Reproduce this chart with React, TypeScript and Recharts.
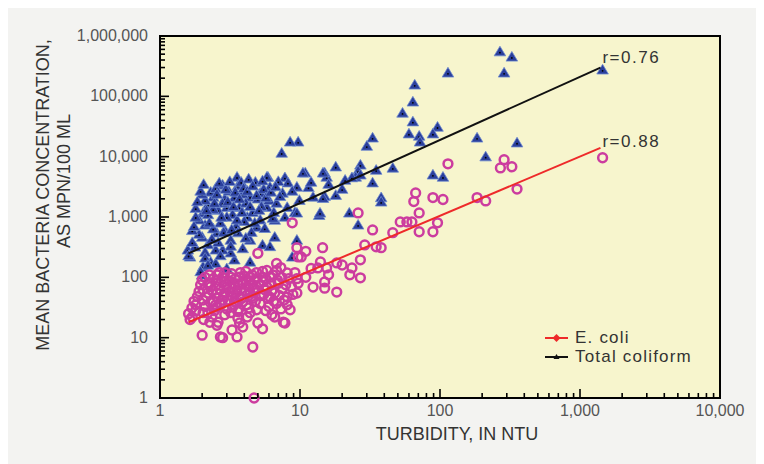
import React from "react";
import { ScatterChart, Scatter, XAxis, YAxis, ReferenceDot, ReferenceArea } from "recharts";

const FONT = "'Liberation Sans', Arial, sans-serif";
const COLIFORM_COLOR = "#2b3f9c";
const ECOLI_COLOR = "#cc3c9f";

const xTicks = [1, 2, 3, 4, 5, 6, 7, 8, 9, 10, 20, 30, 40, 50, 60, 70, 80, 90, 100, 200, 300, 400, 500, 600, 700, 800, 900, 1000, 2000, 3000, 4000, 5000, 6000, 7000, 8000, 9000, 10000];
const yTicks = [1, 2, 3, 4, 5, 6, 7, 8, 9, 10, 20, 30, 40, 50, 60, 70, 80, 90, 100, 200, 300, 400, 500, 600, 700, 800, 900, 1000, 2000, 3000, 4000, 5000, 6000, 7000, 8000, 9000, 10000, 20000, 30000, 40000, 50000, 60000, 70000, 80000, 90000, 100000, 200000, 300000, 400000, 500000, 600000, 700000, 800000, 900000, 1000000];

const totalColiform = [
  { x: 268, y: 550000 }, { x: 326, y: 450000 }, { x: 114, y: 245000 }, { x: 287, y: 245000 },
  { x: 1450, y: 275000 }, { x: 66, y: 155000 }, { x: 64, y: 81000 }, { x: 54, y: 53000 },
  { x: 64, y: 38000 }, { x: 60, y: 24000 }, { x: 71, y: 22000 }, { x: 96, y: 31000 },
  { x: 89, y: 24000 }, { x: 72, y: 17600 }, { x: 184, y: 20500 }, { x: 355, y: 17000 },
  { x: 212, y: 10000 }, { x: 89, y: 5000 }, { x: 105, y: 4600 },
  { x: 9.7, y: 17600 }, { x: 8.5, y: 17600 }, { x: 33, y: 20500 }, { x: 30, y: 15000 },
  { x: 18, y: 6800 }, { x: 15, y: 5400 }, { x: 15.5, y: 4600 }, { x: 27, y: 7300 },
  { x: 26, y: 5800 }, { x: 25, y: 4600 }, { x: 46, y: 6500 }, { x: 33, y: 3700 },
  { x: 10.9, y: 5400 }, { x: 18, y: 2300 }, { x: 38, y: 2100 }, { x: 15, y: 2200 },
  { x: 7.4, y: 11500 }, { x: 3.55, y: 4600 }, { x: 2.8, y: 3400 }, { x: 5.9, y: 4600 },
  { x: 7.8, y: 4500 }, { x: 23.5, y: 4500 }, { x: 12.4, y: 2150 }, { x: 13.7, y: 1070 },
  { x: 22.5, y: 1170 }, { x: 26, y: 740 }, { x: 38, y: 1780 }, { x: 9.2, y: 1200 },
  { x: 6.6, y: 890 }, { x: 2.4, y: 2150 }, { x: 2.2, y: 1600 }, { x: 5.8, y: 4600 },
  { x: 10.5, y: 5400 }, { x: 14.6, y: 5400 }, { x: 27, y: 5000 }, { x: 35, y: 6000 },
  { x: 13.9, y: 1170 }, { x: 14.6, y: 2050 }, { x: 9.5, y: 1170 }, { x: 9.5, y: 415 },
  { x: 8.8, y: 218 }, { x: 6.6, y: 465 }, { x: 5.4, y: 345 }, { x: 6.1, y: 325 },
  { x: 4.4, y: 180 }, { x: 3.4, y: 195 }, { x: 3.2, y: 255 }, { x: 2.8, y: 285 },
  { x: 2.5, y: 285 }, { x: 2.03, y: 150 }, { x: 2.0, y: 110 }, { x: 1.64, y: 218 },
  { x: 1.58, y: 285 }, { x: 1.78, y: 320 }, { x: 2.0, y: 465 }, { x: 2.1, y: 740 },
  { x: 2.03, y: 1170 }, { x: 3.0, y: 1450 }, { x: 3.7, y: 1450 }, { x: 4.4, y: 2150 },
  { x: 5.2, y: 2500 }, { x: 5.8, y: 1450 }, { x: 4.2, y: 1000 }, { x: 5.2, y: 900 },
  { x: 6.4, y: 960 }, { x: 8.1, y: 1450 }, { x: 7.5, y: 2500 }, { x: 9.5, y: 3150 },
  { x: 8.2, y: 3700 }, { x: 6.1, y: 3150 }, { x: 2.9, y: 610 }, { x: 3.2, y: 415 },
  { x: 2.55, y: 545 }, { x: 4.4, y: 415 }, { x: 4.9, y: 680 }, { x: 1.9, y: 900 },
  { x: 2.1, y: 1900 }, { x: 2.3, y: 2600 }, { x: 2.5, y: 3000 }, { x: 2.6, y: 1300 },
  { x: 2.7, y: 800 }, { x: 2.9, y: 2000 }, { x: 3.1, y: 2700 }, { x: 3.3, y: 1100 },
  { x: 3.5, y: 700 }, { x: 3.6, y: 3300 }, { x: 3.9, y: 2400 }, { x: 4.1, y: 1700 },
  { x: 4.6, y: 1200 }, { x: 4.8, y: 3800 }, { x: 5.0, y: 2000 }, { x: 5.5, y: 2900 },
  { x: 6.0, y: 1900 }, { x: 6.8, y: 1700 }, { x: 7.2, y: 2200 }, { x: 7.0, y: 3900 },
  { x: 2.2, y: 1100 }, { x: 2.4, y: 640 }, { x: 2.6, y: 380 }, { x: 2.2, y: 350 },
  { x: 1.9, y: 520 }, { x: 2.8, y: 1700 }, { x: 3.4, y: 2100 }, { x: 4.0, y: 850 },
  { x: 4.5, y: 560 }, { x: 5.6, y: 650 }, { x: 6.5, y: 1200 }, { x: 8.8, y: 2700 },
  { x: 3.8, y: 3800 }, { x: 4.3, y: 4300 }, { x: 2.0, y: 2400 }, { x: 1.8, y: 1400 },
  { x: 2.4, y: 1350 }, { x: 3.0, y: 1000 }, { x: 5.3, y: 1500 }, { x: 3.6, y: 550 },
  { x: 2.1, y: 260 }, { x: 2.3, y: 180 }, { x: 3.0, y: 140 }, { x: 1.7, y: 600 },
  { x: 7.8, y: 1000 }, { x: 9.9, y: 1900 }, { x: 11.5, y: 3100 }, { x: 16, y: 3500 },
  { x: 20, y: 2900 }, { x: 21, y: 4100 }, { x: 12, y: 3800 },
  { x: 1.6, y: 230 }, { x: 1.7, y: 380 }, { x: 1.75, y: 700 }, { x: 1.8, y: 1000 },
  { x: 1.85, y: 1800 }, { x: 1.95, y: 2700 }, { x: 2.05, y: 3500 }, { x: 2.15, y: 1300 },
  { x: 2.25, y: 800 }, { x: 2.35, y: 430 }, { x: 2.45, y: 1700 }, { x: 2.55, y: 2400 },
  { x: 2.65, y: 3700 }, { x: 2.75, y: 1000 }, { x: 2.85, y: 560 }, { x: 2.95, y: 2900 },
  { x: 3.05, y: 1800 }, { x: 3.15, y: 3900 }, { x: 3.25, y: 620 }, { x: 3.35, y: 1500 },
  { x: 3.45, y: 2600 }, { x: 3.55, y: 900 }, { x: 3.7, y: 2000 }, { x: 3.85, y: 1200 },
  { x: 3.95, y: 3000 }, { x: 4.1, y: 450 }, { x: 4.2, y: 2700 }, { x: 4.4, y: 1500 },
  { x: 4.6, y: 3300 }, { x: 4.75, y: 800 }, { x: 4.9, y: 2300 }, { x: 5.1, y: 1300 },
  { x: 5.4, y: 4000 }, { x: 5.7, y: 2100 }, { x: 6.2, y: 2600 }, { x: 6.7, y: 3200 },
  { x: 2.1, y: 210 }, { x: 2.5, y: 170 }, { x: 2.7, y: 230 }, { x: 3.2, y: 330 },
  { x: 3.9, y: 300 }, { x: 2.2, y: 160 }, { x: 1.95, y: 125 },
];

const eColi = [
  { x: 1450, y: 9600 }, { x: 287, y: 8900 }, { x: 270, y: 6500 }, { x: 326, y: 6800 },
  { x: 114, y: 7600 }, { x: 355, y: 2900 }, { x: 184, y: 2100 }, { x: 212, y: 1850 },
  { x: 67, y: 2500 }, { x: 65, y: 1800 }, { x: 89, y: 2100 }, { x: 105, y: 1950 },
  { x: 71, y: 1170 }, { x: 58, y: 830 }, { x: 63, y: 830 }, { x: 52, y: 830 },
  { x: 71, y: 570 }, { x: 89, y: 570 }, { x: 96, y: 800 }, { x: 46, y: 550 },
  { x: 26, y: 1170 }, { x: 33, y: 610 }, { x: 29, y: 345 }, { x: 35, y: 320 },
  { x: 38, y: 310 }, { x: 27, y: 195 }, { x: 23.5, y: 143 }, { x: 22.7, y: 110 },
  { x: 27, y: 98 }, { x: 18.3, y: 173 }, { x: 15.5, y: 143 }, { x: 13.4, y: 143 },
  { x: 15, y: 84 }, { x: 15, y: 66 }, { x: 12.4, y: 69 }, { x: 18.3, y: 57 },
  { x: 9.7, y: 218 }, { x: 10.2, y: 218 }, { x: 9.5, y: 310 }, { x: 8.8, y: 800 },
  { x: 5.0, y: 250 }, { x: 4.6, y: 7 }, { x: 4.7, y: 1 }, { x: 2.0, y: 11 },
  { x: 2.7, y: 10.3 }, { x: 2.8, y: 10 }, { x: 3.55, y: 10.3 }, { x: 3.27, y: 13.4 },
  { x: 3.6, y: 21 }, { x: 4.2, y: 22 }, { x: 5.0, y: 17.5 }, { x: 7.8, y: 17.5 },
  { x: 6.6, y: 22 }, { x: 4.9, y: 29 }, { x: 2.55, y: 16 }, { x: 2.27, y: 18 },
  { x: 1.64, y: 20 }, { x: 1.69, y: 31 }, { x: 1.6, y: 25 }, { x: 2.03, y: 26 },
  { x: 2.55, y: 32 }, { x: 3.3, y: 32 }, { x: 3.9, y: 39 }, { x: 5.2, y: 37 },
  { x: 6.1, y: 47 }, { x: 6.8, y: 37 }, { x: 8.1, y: 35 }, { x: 8.5, y: 29 },
  { x: 8.1, y: 47 }, { x: 9.5, y: 55 }, { x: 9.7, y: 80 }, { x: 9.5, y: 95 },
  { x: 8.1, y: 118 }, { x: 6.8, y: 130 }, { x: 7.3, y: 145 }, { x: 6.1, y: 100 },
  { x: 5.4, y: 101 }, { x: 4.9, y: 120 }, { x: 4.4, y: 101 }, { x: 3.7, y: 101 },
  { x: 3.2, y: 101 }, { x: 2.55, y: 110 }, { x: 2.27, y: 80 }, { x: 2.03, y: 62 },
  { x: 2.03, y: 42 }, { x: 1.85, y: 48 }, { x: 2.55, y: 55 }, { x: 3.0, y: 69 },
  { x: 3.55, y: 62 }, { x: 3.9, y: 80 }, { x: 4.9, y: 62 }, { x: 5.8, y: 69 },
  { x: 7.0, y: 80 }, { x: 3.3, y: 47 }, { x: 4.4, y: 55 }, { x: 2.8, y: 42 },
  { x: 2.4, y: 40 }, { x: 2.2, y: 26 }, { x: 3.7, y: 17.5 }, { x: 4.4, y: 26 },
  { x: 7.6, y: 18 }, { x: 3.2, y: 26 }, { x: 2.3, y: 70 }, { x: 2.6, y: 90 },
  { x: 2.9, y: 85 }, { x: 3.4, y: 75 }, { x: 4.1, y: 90 }, { x: 4.6, y: 75 },
  { x: 5.5, y: 85 }, { x: 6.3, y: 60 }, { x: 7.5, y: 65 }, { x: 8.7, y: 70 },
  { x: 2.2, y: 55 }, { x: 2.9, y: 55 }, { x: 3.7, y: 48 }, { x: 4.6, y: 45 },
  { x: 5.5, y: 52 }, { x: 6.5, y: 40 }, { x: 2.5, y: 35 }, { x: 3.0, y: 30 },
  { x: 3.5, y: 38 }, { x: 12, y: 140 }, { x: 11, y: 100 }, { x: 14, y: 180 },
  { x: 20, y: 160 }, { x: 16, y: 110 }, { x: 1.8, y: 35 }, { x: 2.1, y: 100 },
  { x: 2.9, y: 120 }, { x: 4.1, y: 125 }, { x: 5.8, y: 130 }, { x: 6.8, y: 170 },
  { x: 11, y: 270 }, { x: 14.5, y: 310 },
  { x: 1.75, y: 40 }, { x: 1.9, y: 58 }, { x: 1.95, y: 75 }, { x: 2.0, y: 90 },
  { x: 2.1, y: 33 }, { x: 2.15, y: 48 }, { x: 2.2, y: 80 }, { x: 2.25, y: 110 },
  { x: 2.3, y: 38 }, { x: 2.35, y: 60 }, { x: 2.4, y: 95 }, { x: 2.45, y: 28 },
  { x: 2.5, y: 72 }, { x: 2.6, y: 45 }, { x: 2.65, y: 120 }, { x: 2.7, y: 63 },
  { x: 2.75, y: 36 }, { x: 2.8, y: 100 }, { x: 2.85, y: 50 }, { x: 2.95, y: 75 },
  { x: 3.05, y: 42 }, { x: 3.1, y: 88 }, { x: 3.15, y: 58 }, { x: 3.25, y: 115 },
  { x: 3.3, y: 66 }, { x: 3.4, y: 40 }, { x: 3.45, y: 95 }, { x: 3.5, y: 55 },
  { x: 3.6, y: 78 }, { x: 3.65, y: 30 }, { x: 3.75, y: 120 }, { x: 3.8, y: 65 },
  { x: 3.85, y: 45 }, { x: 4.0, y: 105 }, { x: 4.05, y: 58 }, { x: 4.15, y: 35 },
  { x: 4.25, y: 70 }, { x: 4.35, y: 88 }, { x: 4.5, y: 48 }, { x: 4.55, y: 110 },
  { x: 4.7, y: 65 }, { x: 4.8, y: 40 }, { x: 4.85, y: 95 }, { x: 5.1, y: 75 },
  { x: 5.3, y: 50 }, { x: 5.4, y: 125 }, { x: 5.6, y: 62 }, { x: 5.7, y: 95 },
  { x: 5.9, y: 45 }, { x: 6.2, y: 80 }, { x: 6.4, y: 110 }, { x: 6.6, y: 55 },
  { x: 6.9, y: 90 }, { x: 7.1, y: 50 }, { x: 7.4, y: 100 }, { x: 7.7, y: 42 },
  { x: 7.9, y: 75 }, { x: 8.3, y: 95 }, { x: 8.9, y: 52 }, { x: 9.2, y: 120 },
  { x: 2.05, y: 20 }, { x: 2.35, y: 22 }, { x: 2.9, y: 24 }, { x: 3.6, y: 27 },
  { x: 4.3, y: 31 }, { x: 5.7, y: 28 }, { x: 6.3, y: 24 }, { x: 1.7, y: 22 },
  { x: 1.8, y: 28 }, { x: 2.6, y: 18 }, { x: 3.9, y: 15 }, { x: 5.4, y: 14 },
  { x: 6.0, y: 33 }, { x: 7.3, y: 30 },
];

// regression line end points
const coliformFit = [{ x: 1.6, y: 250 }, { x: 1400, y: 300000 }];
const eColiFit = [{ x: 1.6, y: 18 }, { x: 1400, y: 14000 }];

const isDecade = (v: number) => {
  const l = Math.log10(v);
  return Math.abs(l - Math.round(l)) < 1e-6;
};
const fmt = (v: number) => v.toLocaleString("en-US");

const MAJOR = 9;
const MINOR = 5;
const INK = "#000";

const BottomTick = (props: any) => {
  const { x, y, payload } = props;
  const major = isDecade(payload.value);
  return (
    <g>
      <path d={`M${x},${y}V${y - (major ? MAJOR : MINOR)}`} stroke={INK} strokeWidth={1.6} fill="none" />
      {major && (
        <text x={x} y={y + 18} textAnchor="middle" fontSize={16} fill="#555" fontFamily={FONT}>
          {fmt(payload.value)}
        </text>
      )}
    </g>
  );
};

const TopTick = (props: any) => {
  const { x, y, payload } = props;
  const major = isDecade(payload.value);
  return <path d={`M${x},${y}V${y + (major ? MAJOR : MINOR)}`} stroke={INK} strokeWidth={1.6} fill="none" />;
};

const LeftTick = (props: any) => {
  const { x, y, payload } = props;
  const major = isDecade(payload.value);
  return (
    <g>
      <path d={`M${x},${y}H${x + (major ? MAJOR : MINOR)}`} stroke={INK} strokeWidth={1.6} fill="none" />
      {major && (
        <text x={x - 12} y={y + 5} textAnchor="end" fontSize={16} fill="#555" fontFamily={FONT}>
          {fmt(payload.value)}
        </text>
      )}
    </g>
  );
};

const RightTick = (props: any) => {
  const { x, y, payload } = props;
  const major = isDecade(payload.value);
  return <path d={`M${x},${y}H${x - (major ? MAJOR : MINOR)}`} stroke={INK} strokeWidth={1.6} fill="none" />;
};

const Triangle = (props: any) => {
  const { cx, cy } = props;
  return (
    <g>
      <polygon
        points={`${cx},${cy - 5.5} ${cx - 5.8},${cy + 4.2} ${cx + 5.8},${cy + 4.2}`}
        fill={COLIFORM_COLOR}
        stroke="#6f8bd0"
        strokeWidth={0.8}
      />
      <circle cx={cx} cy={cy + 1} r={0.9} fill="#000" />
    </g>
  );
};

const Ring = (props: any) => {
  const { cx, cy } = props;
  return <circle cx={cx} cy={cy} r={4.4} fill="none" stroke={ECOLI_COLOR} strokeWidth={2.5} />;
};

const NoShape = () => <g />;

const XTitle = (props: any) => {
  const { viewBox } = props;
  return (
    <text
      x={viewBox.x + viewBox.width / 2 + 17}
      y={viewBox.y + 42}
      textAnchor="middle"
      fontSize={18}
      fill="#333"
      fontFamily={FONT}
    >
      TURBIDITY, IN NTU
    </text>
  );
};

const ChartTitle = (props: any) => {
  const { viewBox } = props;
  return (
    <text x={viewBox.x + 146} y={viewBox.y - 9} textAnchor="middle" fontSize={16} fill="#333" fontFamily={FONT}>
      Chattahoochee River near Norcross
    </text>
  );
};

const YTitle = (props: any) => {
  const { viewBox } = props;
  const x1 = viewBox.x - 51;
  const x2 = viewBox.x - 30;
  const y1 = 195;
  const y2 = 181;
  return (
    <g fontSize={18} fill="#333" fontFamily={FONT} textAnchor="middle">
      <text x={x1} y={y1} transform={`rotate(-90 ${x1} ${y1})`}>
        MEAN BACTERIA CONCENTRATION,
      </text>
      <text x={x2} y={y2} transform={`rotate(-90 ${x2} ${y2})`}>
        AS MPN/100 ML
      </text>
    </g>
  );
};

const RLabel = (props: any) => {
  const { viewBox, text, dy } = props;
  return (
    <text x={viewBox.x + 2} y={viewBox.y + dy} fontSize={17} letterSpacing={1.5} fill="#333" fontFamily={FONT}>
      {text}
    </text>
  );
};

export default function App() {
  // the page keeps its 8px body margin, so pull everything back by 8px
  return (
    <div style={{ position: "relative", left: -8, top: -8, width: 764, height: 464, background: "#fff" }}>
      <div style={{ position: "absolute", left: 7, top: 7, width: 757, height: 457, background: "#f3f3f1" }} />
      <div
        style={{
          position: "absolute",
          left: 159,
          top: 35,
          width: 562,
          height: 364,
          boxSizing: "border-box",
          background: "#f7f5cd",
          border: `2px solid ${INK}`,
        }}
      />
      <div style={{ position: "absolute", left: 0, top: 0, width: 764, height: 464 }}>
        <ScatterChart width={764} height={464} margin={{ top: 36, right: 44, bottom: 36, left: 100 }}>
          <Scatter name="Total coliform" data={totalColiform} shape={<Triangle />} isAnimationActive={false} />
          <Scatter name="E. coli" data={eColi} shape={<Ring />} isAnimationActive={false} />
          <Scatter
            name="Total coliform fit"
            data={coliformFit}
            line={{ stroke: "#111", strokeWidth: 2 }}
            shape={<NoShape />}
            legendType="none"
            isAnimationActive={false}
          />
          <Scatter
            name="E. coli fit"
            data={eColiFit}
            line={{ stroke: "#ee2a2a", strokeWidth: 2 }}
            shape={<NoShape />}
            legendType="none"
            isAnimationActive={false}
          />
          <ReferenceArea
            x1={1}
            x2={10000}
            y1={1}
            y2={1000000}
            fill="none"
            stroke={INK}
            strokeWidth={2}
            ifOverflow="visible"
          />
          <XAxis
            dataKey="x"
            type="number"
            scale="log"
            domain={[1, 10000]}
            ticks={xTicks}
            interval={0}
            tickSize={0}
            tickMargin={0}
            tickLine={false}
            tick={BottomTick}
            axisLine={{ stroke: INK, strokeWidth: 2 }}
            height={30}
            label={<XTitle />}
          />
          <XAxis
            xAxisId="top"
            orientation="top"
            dataKey="x"
            type="number"
            scale="log"
            domain={[1, 10000]}
            ticks={xTicks}
            interval={0}
            tickSize={0}
            tickMargin={0}
            tickLine={false}
            tick={TopTick}
            axisLine={{ stroke: INK, strokeWidth: 2 }}
            height={0}
            label={<ChartTitle />}
          />
          <YAxis
            dataKey="y"
            type="number"
            scale="log"
            domain={[1, 1000000]}
            ticks={yTicks}
            interval={0}
            tickSize={0}
            tickMargin={0}
            tickLine={false}
            tick={LeftTick}
            axisLine={{ stroke: INK, strokeWidth: 2 }}
            width={60}
            label={<YTitle />}
          />
          <YAxis
            yAxisId="right"
            orientation="right"
            dataKey="y"
            type="number"
            scale="log"
            domain={[1, 1000000]}
            ticks={yTicks}
            interval={0}
            tickSize={0}
            tickMargin={0}
            tickLine={false}
            tick={RightTick}
            axisLine={{ stroke: INK, strokeWidth: 2 }}
            width={0}
          />
          <ReferenceDot
            x={coliformFit[1].x}
            y={coliformFit[1].y}
            r={0}
            fill="none"
            stroke="none"
            label={<RLabel text="r=0.76" dy={-5} />}
          />
          <ReferenceDot
            x={eColiFit[1].x}
            y={eColiFit[1].y}
            r={0}
            fill="none"
            stroke="none"
            label={<RLabel text="r=0.88" dy={-1} />}
          />
        </ScatterChart>
      </div>
      <div
        style={{
          position: "absolute",
          left: 545,
          top: 328,
          fontFamily: FONT,
          fontSize: 17,
          letterSpacing: 1.2,
          color: "#333",
          lineHeight: "19px",
        }}
      >
        <div style={{ display: "flex", alignItems: "center" }}>
          <svg width={24} height={12}>
            <line x1={0} y1={6} x2={23} y2={6} stroke="#ee2a2a" strokeWidth={2} />
            <polygon points="11.5,2 15.5,6 11.5,10 7.5,6" fill="#ee2a2a" />
          </svg>
          <span style={{ marginLeft: 6 }}>E. coli</span>
        </div>
        <div style={{ display: "flex", alignItems: "center" }}>
          <svg width={24} height={12}>
            <line x1={0} y1={6} x2={23} y2={6} stroke="#111" strokeWidth={2} />
            <polygon points="11.5,3 14.5,8 8.5,8" fill="#111" />
          </svg>
          <span style={{ marginLeft: 6 }}>Total coliform</span>
        </div>
      </div>
    </div>
  );
}
